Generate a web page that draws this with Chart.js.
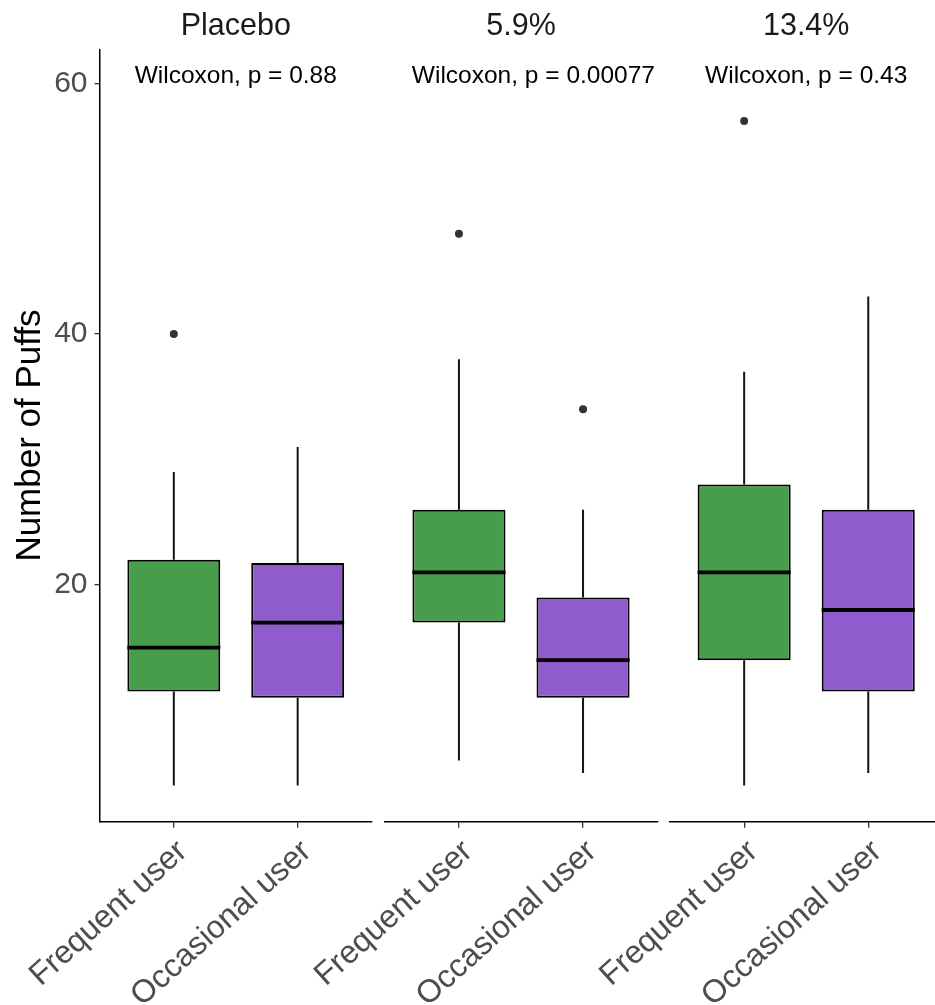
<!DOCTYPE html>
<html>
<head>
<meta charset="utf-8">
<title>Number of Puffs by user group</title>
<script src="https://cdn.jsdelivr.net/npm/chart.js@4.4.1/dist/chart.umd.min.js"></script>
<style>
  html, body { margin: 0; padding: 0; background: #ffffff; overflow: hidden; }
  #wrap { position: relative; width: 935px; height: 1005px; overflow: hidden; }
  #wrap canvas { position: absolute; left: 0; top: 0; }
</style>
</head>
<body>
<div id="wrap">
  <canvas id="panel0" width="960" height="1005"></canvas>
  <canvas id="panel1" width="960" height="1005"></canvas>
  <canvas id="panel2" width="960" height="1005"></canvas>
</div>
<script>
// ---- data ----
const groups = ['Frequent user', 'Occasional user'];
const panels = ['Placebo', '5.9%', '13.4%'];
const pLabels = ['Wilcoxon, p = 0.88', 'Wilcoxon, p = 0.00077', 'Wilcoxon, p = 0.43'];

// per panel: [Frequent user, Occasional user]
const whiskerLow  = [[4, 4],      [6, 5],   [4, 5]];
const q1          = [[11.5, 11],  [17, 11], [14, 11.5]];
const median      = [[15, 17],    [21, 14], [21, 18]];
const q3          = [[22, 21.75], [26, 19], [28, 26]];
const whiskerHigh = [[29, 31],    [38, 26], [37, 43]];
const outliers    = [[[40], []],  [[48], [34]], [[57], []]];

const yTicks = [20, 40, 60];
const pLabelY = 60;

// ---- layout / style ----
const FONT = "'Liberation Sans', Arial, Helvetica, sans-serif";
const CANVAS_W = 960, CANVAS_H = 1005;
const AREA_TOP = 49.3, AREA_BOTTOM = 821.7;
const Y_AXIS_W = 99.5;
const areaLeft = [99.5, 384.5, 669.7];
const AREA_W = 273;
const labelX = [0.5, 0.6, 0.5];
const X_MIN = -0.6, X_MAX = 1.6;
const Y_MIN = 1.12, Y_MAX = 62.71;
const BOX_HALF = 0.375;
const FILLS = ['#479d49', '#905bcc'];

Chart.defaults.font.family = FONT;

// facet strip title and test annotation
const facetText = {
  id: 'facetText',
  afterDraw(chart, args, opts) {
    const { ctx, chartArea, scales } = chart;
    ctx.save();
    ctx.textAlign = 'center';
    ctx.textBaseline = 'alphabetic';
    ctx.fillStyle = '#1a1a1a';
    ctx.font = '30.5px ' + FONT;
    ctx.fillText(opts.title, (chartArea.left + chartArea.right) / 2, chartArea.top - 14.3);
    ctx.fillStyle = '#000000';
    ctx.font = '24.5px ' + FONT;
    ctx.fillText(opts.label, scales.x.getPixelForValue(opts.labelX), scales.y.getPixelForValue(pLabelY));
    ctx.restore();
  }
};

function buildDatasets(k) {
  const ds = [];
  ds.push({
    type: 'bar',
    data: groups.map((g, i) => ({ x: i, y: [q1[k][i], q3[k][i]] })),
    backgroundColor: FILLS,
    borderColor: '#000000',
    borderWidth: 2,
    borderSkipped: false,
    barPercentage: 0.75,
    categoryPercentage: 1,
    order: 2
  });
  groups.forEach((g, i) => {
    const whisker = {
      type: 'line', borderColor: '#141414', borderWidth: 2,
      pointRadius: 0, fill: false, order: 3
    };
    ds.push(Object.assign({ data: [{ x: i, y: whiskerLow[k][i] }, { x: i, y: q1[k][i] }] }, whisker));
    ds.push(Object.assign({ data: [{ x: i, y: q3[k][i] }, { x: i, y: whiskerHigh[k][i] }] }, whisker));
    ds.push({
      type: 'line',
      data: [{ x: i - BOX_HALF, y: median[k][i] }, { x: i + BOX_HALF, y: median[k][i] }],
      borderColor: '#000000', borderWidth: 3.8, pointRadius: 0, fill: false, order: 1
    });
  });
  ds.push({
    type: 'scatter',
    data: groups.flatMap((g, i) => outliers[k][i].map(v => ({ x: i, y: v }))),
    backgroundColor: '#333333',
    borderWidth: 0,
    pointRadius: 4,
    order: 0
  });
  return ds;
}

function buildChart(k) {
  const first = k === 0;
  const yScale = {
    type: 'linear',
    min: Y_MIN, max: Y_MAX,
    display: first,
    afterBuildTicks: s => { s.ticks = yTicks.map(v => ({ value: v })); },
    ticks: { color: '#4d4d4d', font: { size: 30 }, padding: 7 },
    grid: { drawOnChartArea: false, drawTicks: true, tickLength: 5, color: '#333333', lineWidth: 1.3 },
    border: { display: true, color: '#000000', width: 1.5 },
    title: {
      display: true, text: 'Number of Puffs', color: '#000000',
      font: { size: 35 }, padding: { top: 9, bottom: 0 }
    }
  };
  if (first) yScale.afterFit = s => { s.width = Y_AXIS_W; };

  const padLeft = first ? 0 : areaLeft[k];
  const padRight = CANVAS_W - (areaLeft[k] + (first ? AREA_W - 0.5 : AREA_W));

  return new Chart(document.getElementById('panel' + k), {
    type: 'bar',
    data: { datasets: buildDatasets(k) },
    options: {
      responsive: false,
      animation: false,
      devicePixelRatio: 1,
      layout: {
        autoPadding: false,
        padding: { left: padLeft, right: padRight, top: AREA_TOP, bottom: 0 }
      },
      plugins: {
        legend: { display: false },
        tooltip: { enabled: false },
        facetText: { title: panels[k], label: pLabels[k], labelX: labelX[k] }
      },
      scales: {
        x: {
          type: 'linear',
          min: X_MIN, max: X_MAX,
          offset: false,
          afterBuildTicks: s => { s.ticks = groups.map((g, i) => ({ value: i })); },
          afterFit: s => {
            s.height = CANVAS_H - AREA_BOTTOM;
            s.paddingLeft = 0;
            s.paddingRight = 0;
          },
          ticks: {
            autoSkip: false, minRotation: 42, maxRotation: 42, padding: 5,
            labelOffset: 9,
            color: '#4d4d4d', font: { size: 32 },
            callback: v => groups[v]
          },
          grid: {
            display: true, drawOnChartArea: false, drawTicks: true, offset: false,
            tickLength: 6, color: '#333333', lineWidth: 1.3
          },
          border: { display: true, color: '#000000', width: 1.5 }
        },
        y: yScale
      }
    },
    plugins: [facetText]
  });
}

panels.forEach((p, k) => buildChart(k));
</script>
</body>
</html>
